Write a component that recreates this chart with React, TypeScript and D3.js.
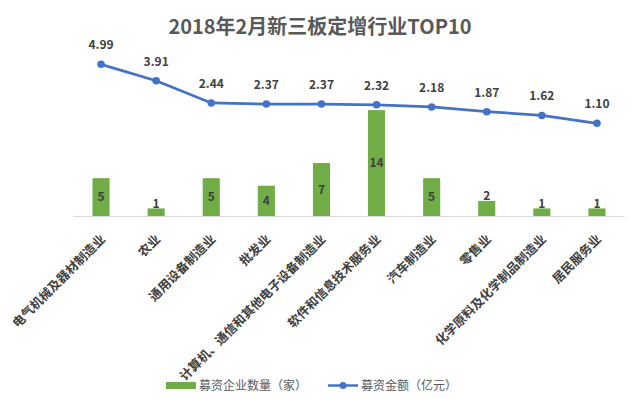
import React from "react";
import * as d3 from "d3";

// 2018年2月新三板定增行业TOP10
const industries = [
  "电气机械及器材制造业",
  "农业",
  "通用设备制造业",
  "批发业",
  "计算机、通信和其他电子设备制造业",
  "软件和信息技术服务业",
  "汽车制造业",
  "零售业",
  "化学原料及化学制品制造业",
  "居民服务业",
];
const companyCounts = [5, 1, 5, 4, 7, 14, 5, 2, 1, 1];
const amounts = [4.99, 3.91, 2.44, 2.37, 2.37, 2.32, 2.18, 1.87, 1.62, 1.1];

const title = "2018年2月新三板定增行业TOP10";
const legendBar = "募资企业数量（家）";
const legendLine = "募资金额（亿元）";

const width = 640;
const height = 399;
const green = "#70AD47";
const blue = "#4472C4";
const textColor = "#404040";
const font = "'Noto Sans CJK SC', 'Noto Sans', sans-serif";

export default function App() {
  const x = d3
    .scaleBand<string>()
    .domain(industries)
    .range([73.5, 624.5])
    .paddingInner(0.69)
    .paddingOuter(0.345);
  const yBar = d3.scaleLinear().domain([0, 16]).range([216, 95]);
  const yLine = d3.scaleLinear().domain([0, 6]).range([140, 49]);

  const cx = (d: string) => (x(d) ?? 0) + x.bandwidth() / 2;

  const line = d3
    .line<number>()
    .x((_, i) => cx(industries[i]))
    .y((d) => yLine(d));

  return (
    <svg
      width={width}
      height={height}
      style={{ position: "absolute", left: 0, top: 0, background: "#fff" }}
      fontFamily={font}
    >
      <rect width={width} height={height} fill="#fff" />
      <text
        x={320}
        y={34}
        textAnchor="middle"
        fontSize={20}
        fontWeight="bold"
        fill="#595959"
      >
        {title}
      </text>

      {/* bars */}
      {companyCounts.map((v, i) => {
        const top = yBar(v);
        const h = yBar(0) - top;
        // small bars get their label just above, others in the middle
        const ly = h >= 20 ? top + h / 2 : top - 5;
        return (
          <g key={industries[i]}>
            <rect
              x={x(industries[i])}
              y={top}
              width={x.bandwidth()}
              height={h}
              fill={green}
            />
            <text
              x={cx(industries[i])}
              y={ly}
              dy="0.35em"
              textAnchor="middle"
              fontSize={12}
              fontWeight="bold"
              fill={textColor}
            >
              {v}
            </text>
          </g>
        );
      })}

      {/* category axis */}
      <line
        x1={x.range()[0]}
        x2={x.range()[1]}
        y1={yBar(0) + 0.5}
        y2={yBar(0) + 0.5}
        stroke="#d9d9d9"
        strokeWidth={1}
      />
      {industries.map((d) => (
        <text
          key={d}
          transform={`translate(${cx(d) + 5},240) rotate(-45)`}
          textAnchor="end"
          fontSize={12.5}
          fontWeight="bold"
          fill={textColor}
        >
          {d}
        </text>
      ))}

      {/* amount line */}
      <path d={line(amounts) ?? ""} fill="none" stroke={blue} strokeWidth={2.75} />
      {amounts.map((v, i) => (
        <g key={i}>
          <circle cx={cx(industries[i])} cy={yLine(v)} r={3.75} fill={blue} />
          <text
            x={cx(industries[i])}
            y={yLine(v) - 15}
            textAnchor="middle"
            fontSize={12}
            fontWeight="bold"
            fill={textColor}
          >
            {v.toFixed(2)}
          </text>
        </g>
      ))}

      {/* legend */}
      <g fontSize={12} fill="#595959">
        <rect x={166} y={382} width={30} height={7} fill={green} />
        <text x={199} y={389.5}>
          {legendBar}
        </text>
        <line x1={328} x2={358} y1={385.5} y2={385.5} stroke={blue} strokeWidth={2.5} />
        <circle cx={343} cy={385.5} r={3.5} fill={blue} />
        <text x={361} y={389.5}>
          {legendLine}
        </text>
      </g>
    </svg>
  );
}
